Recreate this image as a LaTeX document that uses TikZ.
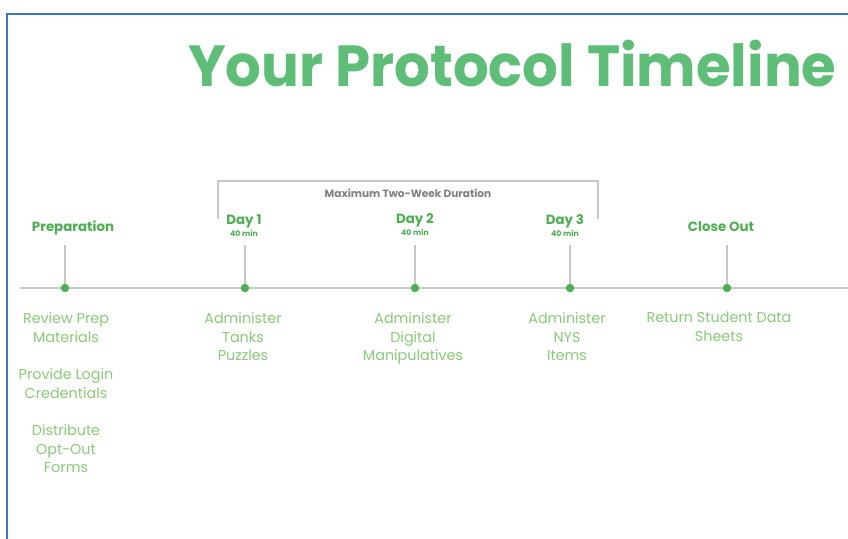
\documentclass[tikz,border=0pt]{standalone}
\usepackage{fontspec}
\setmainfont{Poppins}
\usepackage{graphicx}
\definecolor{titlegreen}{HTML}{5EBE78}
\definecolor{headgreen}{HTML}{4CAF50}
\definecolor{bodygreen}{HTML}{86CB76}
\definecolor{linegray}{HTML}{C8C8C8}
\definecolor{notegray}{HTML}{7F7F7F}
\definecolor{frameblue}{HTML}{4472C4}
\tikzset{
  stagehead/.style={text=headgreen, font=\fontsize{9.5}{11}\selectfont\bfseries, inner sep=0pt, anchor=base},
  daymins/.style={text=headgreen, font=\fontsize{5.5}{7}\selectfont\bfseries, inner sep=0pt, anchor=base},
  tasktext/.style={text=bodygreen, font=\fontsize{10.2}{13.4}\selectfont, align=center, inner sep=0pt, anchor=north},
  stagedot/.style={circle, fill=headgreen, inner sep=0pt, minimum size=6pt},
  tickline/.style={draw=linegray, line width=0.8pt},
}
\begin{document}
\begin{tikzpicture}[x=0.025cm, y=-0.025cm]
        \useasboundingbox (0,0) rectangle (848,539);
        % Frame
        \draw[frameblue, line width=1.5pt] (7,539) -- (7,14) -- (848,14);

        % Title
        \node[anchor=south west, inner sep=0pt, text=titlegreen] (title) at (188,87)
          {\resizebox{461pt}{33pt}{\bfseries Your Protocol Timeline}};

        % Timeline
        \coordinate (tl start) at (20,288);
        \coordinate (tl end) at (848,288);
        \draw[tickline] (tl start) -- (tl end);

        % Two-week bracket
        \coordinate (br a) at (218,219);
        \coordinate (br b) at (218,181);
        \coordinate (br c) at (598,181);
        \coordinate (br d) at (598,219);
        \draw[tickline] (br a) -- (br b) -- (br c) -- (br d);
        \node[text=notegray, font=\fontsize{7.5}{9}\selectfont\bfseries, inner sep=0pt, anchor=base] (twoweek) at (408,197.5) {Maximum Two-Week Duration};

        % Stages
        \node[stagedot] (prep dot) at (65,288) {};
        \node[stagedot] (day1 dot) at (245,288) {};
        \node[stagedot] (day2 dot) at (415,288) {};
        \node[stagedot] (day3 dot) at (570,288) {};
        \node[stagedot] (close dot) at (727,288) {};

        \coordinate (prep top) at (65,245);
        \coordinate (day1 top) at (245,245);
        \coordinate (day2 top) at (415,245);
        \coordinate (day3 top) at (570,245);
        \coordinate (close top) at (727,245);
        \draw[tickline] (prep top) -- (prep dot);
        \draw[tickline] (day1 top) -- (day1 dot);
        \draw[tickline] (day2 top) -- (day2 dot);
        \draw[tickline] (day3 top) -- (day3 dot);
        \draw[tickline] (close top) -- (close dot);

        \node[stagehead] (prep head) at (73,231.5) {Preparation};
        \node[stagehead] (day1 head) at (244,224) {Day 1};
        \node[daymins] (day1 min) at (244,236) {40 min};
        \node[stagehead] (day2 head) at (415,223) {Day 2};
        \node[daymins] (day2 min) at (415,235) {40 min};
        \node[stagehead] (day3 head) at (565,224) {Day 3};
        \node[daymins] (day3 min) at (565,236) {40 min};
        \node[stagehead] (close head) at (721,231.5) {Close Out};

        % Tasks
        \node[tasktext] (prep t1) at (66,312) {Review Prep\\Materials};
        \node[tasktext] (prep t2) at (66,368) {Provide Login\\Credentials};
        \node[tasktext] (prep t3) at (66,424) {Distribute\\Opt-Out\\Forms};
        \node[tasktext] (day1 t) at (243,312) {Administer\\Tanks\\Puzzles};
        \node[tasktext] (day2 t) at (413,312) {Administer\\Digital\\Manipulatives};
        \node[tasktext] (day3 t) at (567,312) {Administer\\NYS\\Items};
        \node[tasktext] (close t) at (719,312) {Return Student Data\\Sheets};
\end{tikzpicture}
\end{document}
